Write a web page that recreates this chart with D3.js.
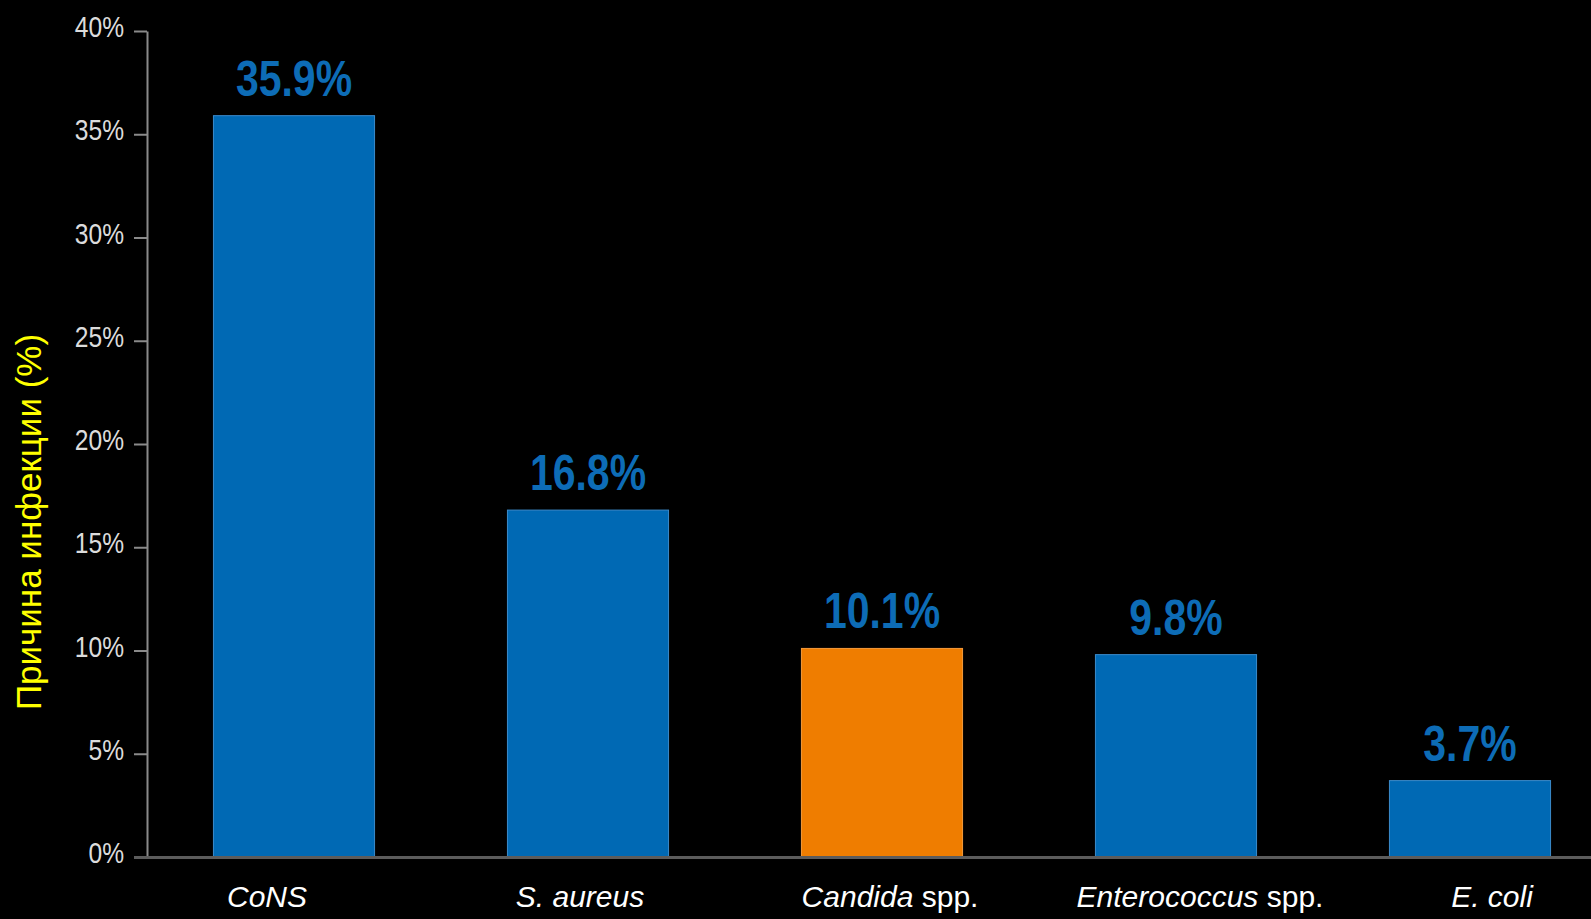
<!DOCTYPE html>
<meta charset="utf-8">
<style>
	body {
	  margin: 0;
	  background: #000;
	  font-family: "Liberation Sans", Arial, sans-serif;
	}
	.y.axis .domain { stroke: #8a8a8a; stroke-width: 2px; }
	.y.axis .tick line { stroke: #8a8a8a; stroke-width: 2px; }
	.y.axis .tick text { fill: #dcdcdc; font-size: 30px; }
</style>
<body>
<script src="https://d3js.org/d3.v7.min.js"></script>
<script>

	// data
	var categories = ["CoNS", "S. aureus", "Candida spp.", "Enterococcus spp.", "E. coli"];
	var values = [35.9, 16.8, 10.1, 9.8, 3.7];
	var valueLabels = ["35.9%", "16.8%", "10.1%", "9.8%", "3.7%"];
	var yTicks = [0, 5, 10, 15, 20, 25, 30, 35, 40];
	// italic part / upright part of each category name
	var italicParts = ["CoNS", "S. aureus", "Candida", "Enterococcus", "E. coli"];
	var plainParts = ["", "", " spp.", " spp.", ""];
	var highlight = "Candida spp.";

	var width = 1591, height = 919;
	var narrow = 0.82; // fake Arial Narrow
	var labelNudge = [-27, -8, 8, 24, 22];

	var svg = d3.select("body").append("svg")
		.attr("width", width)
		.attr("height", height)
		.style("display", "block")
		.style("background", "#000");

	var x = d3.scaleBand()
		.domain(categories)
		.range([147, 1617])
		.paddingInner(0.452)
		.paddingOuter(0.226);

	var y = d3.scaleLinear()
		.domain([0, 40])
		.range([857, 31]);

	var yAxis = d3.axisLeft(y)
		.tickValues(yTicks)
		.tickFormat(function(d) { return d + "%"; })
		.tickSize(13)
		.tickSizeOuter(0);

	var gY = svg.append("g")
		.attr("class", "y axis")
		.attr("transform", "translate(147,0)")
		.call(yAxis);
	gY.selectAll(".tick text")
		.attr("x", -23 / narrow)
		.attr("y", -4)
		.attr("transform", "scale(" + narrow + ",1)");

	var data = categories.map(function(c, i) {
		return {cat: c, value: values[i], label: valueLabels[i], it: italicParts[i], pl: plainParts[i], i: i};
	});

	svg.selectAll(".bar")
		.data(data)
		.enter().append("rect")
		.attr("class", "bar")
		.attr("x", function(d) { return x(d.cat); })
		.attr("width", x.bandwidth())
		.attr("y", function(d) { return y(d.value); })
		.attr("height", function(d) { return y(0) - y(d.value); })
		.attr("fill", function(d) { return d.cat == highlight ? "#ef7d00" : "#0069b4"; })
		.attr("stroke", function(d) { return d.cat == highlight ? "#f59a3a" : "#3b8bcc"; })
		.attr("stroke-width", 1);

	// value labels above bars
	svg.selectAll(".vlabel")
		.data(data)
		.enter().append("g")
		.attr("class", "vlabel")
		.attr("transform", function(d) {
			return "translate(" + (x(d.cat) + x.bandwidth() / 2) + "," + (y(d.value) - 20) + ")";
		})
		.append("text")
		.attr("transform", "scale(" + narrow + ",1)")
		.attr("text-anchor", "middle")
		.style("font-size", "50px")
		.style("font-weight", "bold")
		.style("fill", function(d) { return "#0d6cb6"; })
		.text(function(d) { return d.label; });

	// baseline
	svg.append("line")
		.attr("x1", 134)
		.attr("x2", width)
		.attr("y1", y(0) + 0.5)
		.attr("y2", y(0) + 0.5)
		.attr("stroke", "#5c5c5c")
		.attr("stroke-width", 3);

	// category labels
	var cl = svg.selectAll(".clabel")
		.data(data)
		.enter().append("text")
		.attr("class", "clabel")
		.attr("x", function(d) { return x(d.cat) + x.bandwidth() / 2 + labelNudge[d.i]; })
		.attr("y", 907)
		.attr("text-anchor", "middle")
		.style("font-size", "30px")
		.style("fill", "#fff");
	cl.append("tspan")
		.style("font-style", "italic")
		.text(function(d) { return d.it; });
	cl.append("tspan")
		.text(function(d) { return d.pl; });

	// y title
	svg.append("text")
		.attr("transform", "translate(41,522) rotate(-90)")
		.attr("text-anchor", "middle")
		.style("font-size", "35px")
		.style("fill", "#ffff00")
		.text("Причина инфекции (%)");

</script>
</body>
